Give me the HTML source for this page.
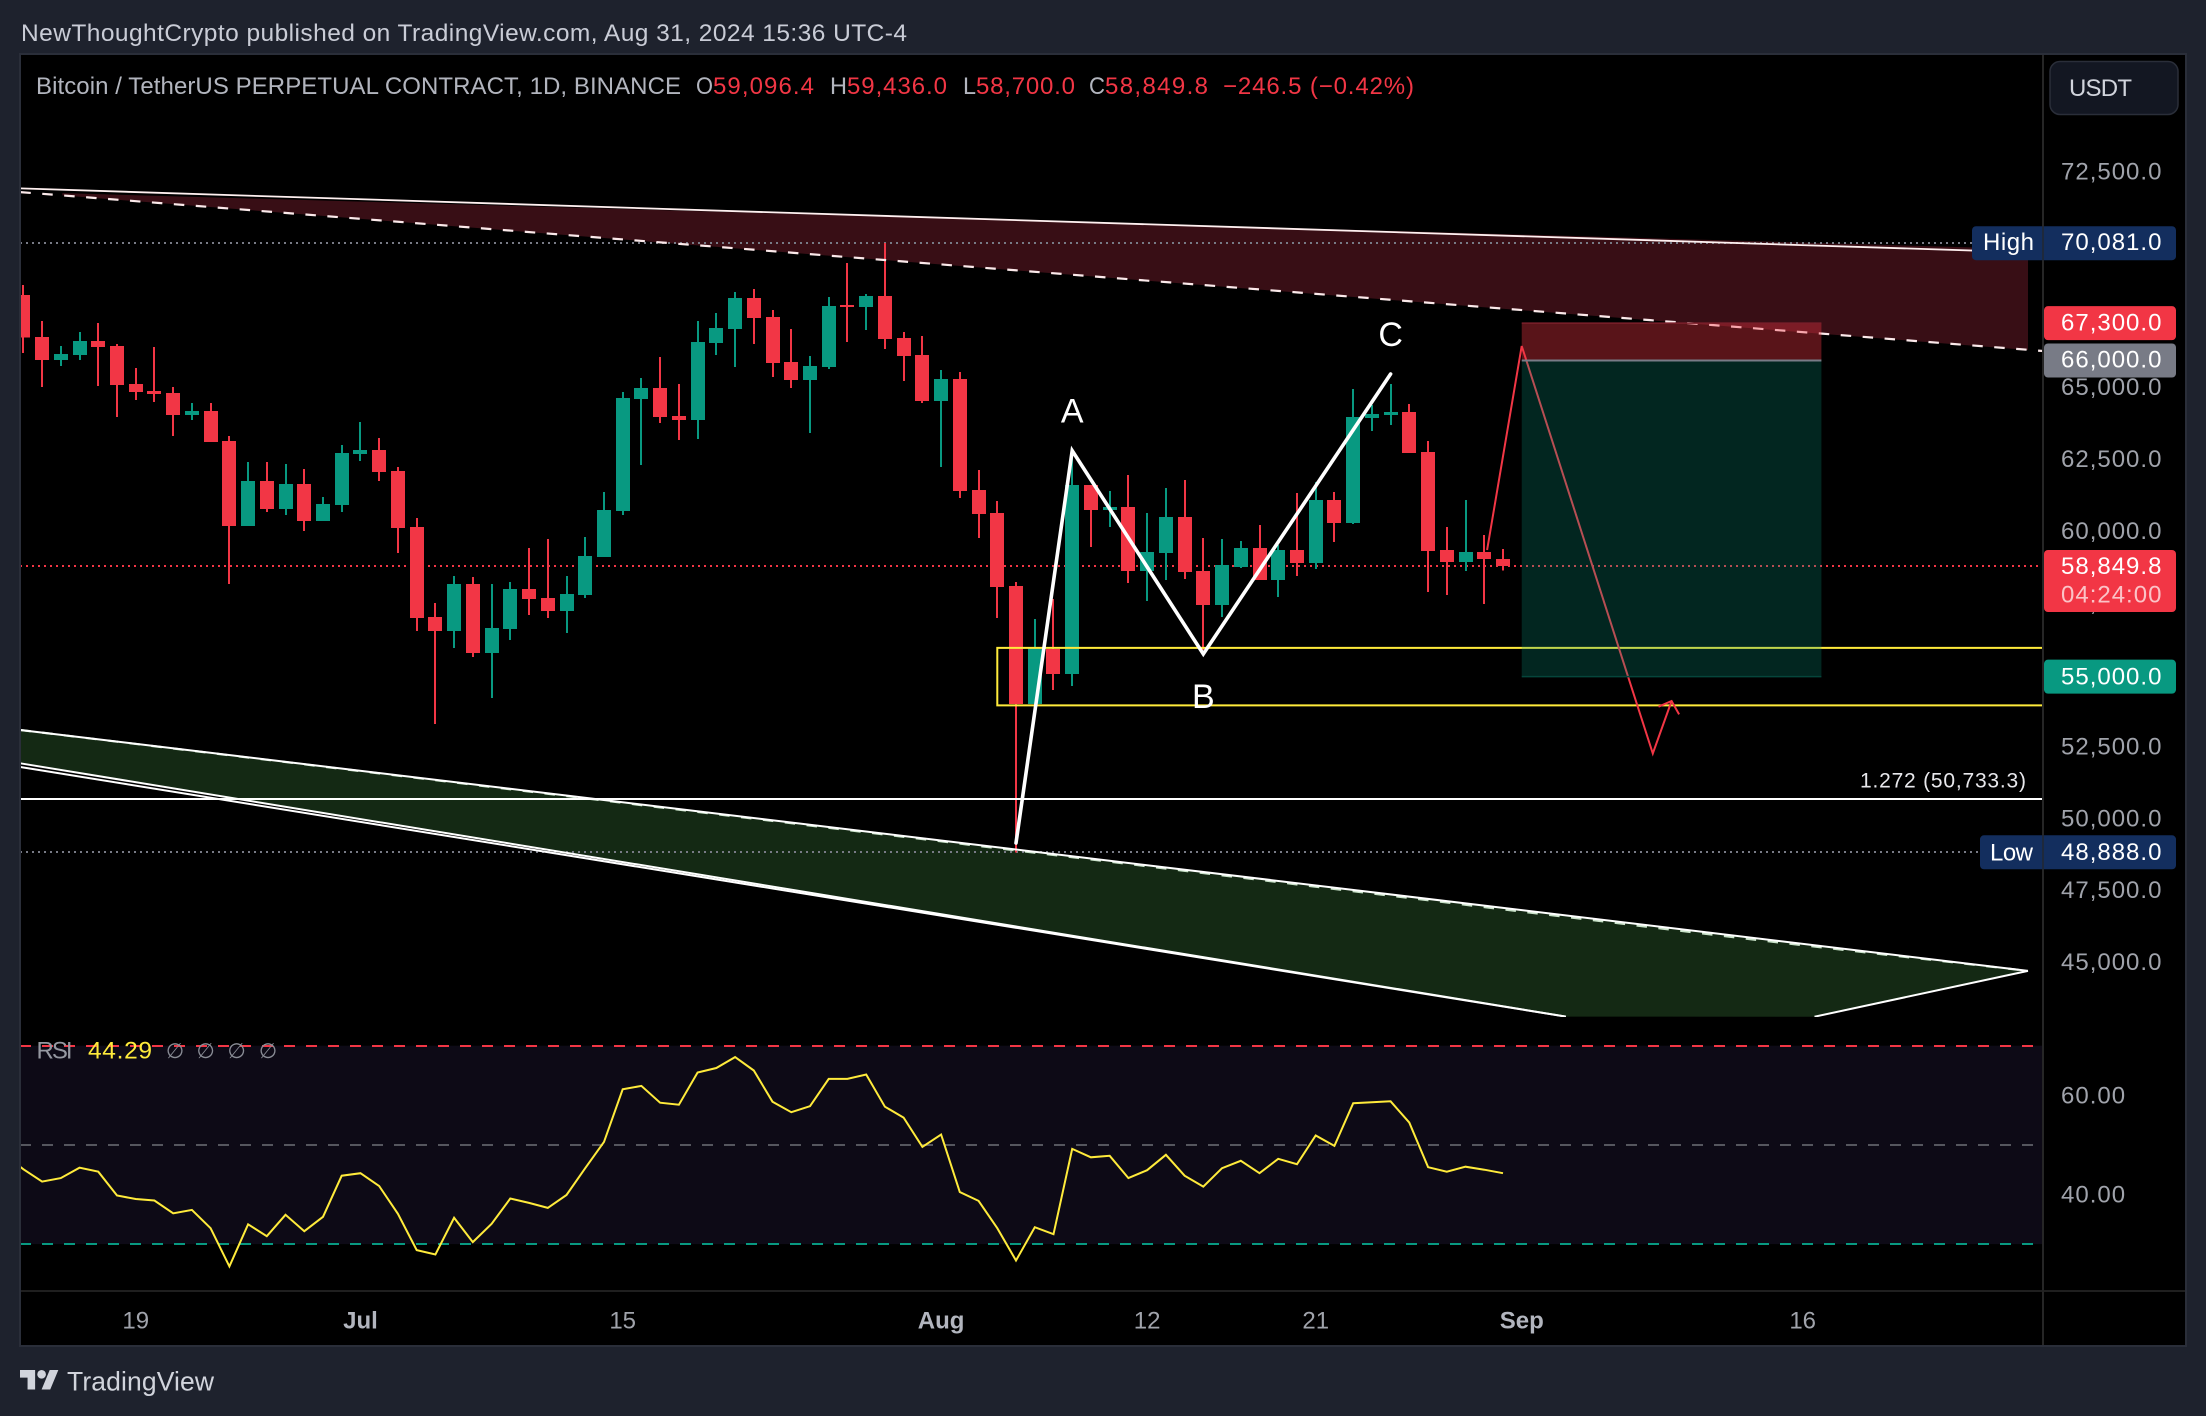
<!DOCTYPE html>
<html lang="en">
<head>
<meta charset="utf-8">
<title>BTCUSDT Perpetual 1D chart</title>
<style>
html,body{margin:0;padding:0;background:#1e222d;}
body{width:2206px;height:1416px;overflow:hidden;}
svg{display:block;font-family:"Liberation Sans",sans-serif;}
</style>
</head>
<body>
<svg id="chart" xmlns="http://www.w3.org/2000/svg" width="2206" height="1416" viewBox="0 0 2206 1416">
  <defs>
    <clipPath id="main-clip"><rect x="20" y="54" width="2023" height="963"></rect></clipPath>
    <clipPath id="rsi-clip"><rect x="20" y="1018" width="2023" height="272"></rect></clipPath>
  </defs>
  <rect x="0" y="0" width="2206" height="1416" fill="#1e222d"></rect>
  <text x="21" y="41" font-size="24.5" fill="#c9ccd6" textLength="886" lengthAdjust="spacing">NewThoughtCrypto published on TradingView.com, Aug 31, 2024 15:36 UTC-4</text>
  <rect x="20" y="54" width="2166" height="1292" fill="#000"></rect>
  <g id="main-pane" clip-path="url(#main-clip)"></g>
  <g id="rsi-pane" clip-path="url(#rsi-clip)"></g>
  <g id="axes"></g>
  <rect x="20" y="54" width="2166" height="1292" fill="none" stroke="#2a2e39" stroke-width="2"></rect>

  <text x="36" y="94" font-size="24" fill="#b2b5be" textLength="645" lengthAdjust="spacing">Bitcoin / TetherUS PERPETUAL CONTRACT, 1D, BINANCE</text>
  <text x="696" y="94" font-size="24" fill="#b2b5be" textLength="17" lengthAdjust="spacingAndGlyphs">O</text>
  <text x="713" y="94" font-size="24" fill="#f23645" textLength="101" lengthAdjust="spacing">59,096.4</text>
  <text x="830" y="94" font-size="24" fill="#b2b5be" textLength="17" lengthAdjust="spacingAndGlyphs">H</text>
  <text x="847" y="94" font-size="24" fill="#f23645" textLength="100" lengthAdjust="spacing">59,436.0</text>
  <text x="963" y="94" font-size="24" fill="#b2b5be" textLength="13" lengthAdjust="spacingAndGlyphs">L</text>
  <text x="976" y="94" font-size="24" fill="#f23645" textLength="99" lengthAdjust="spacing">58,700.0</text>
  <text x="1089" y="94" font-size="24" fill="#b2b5be" textLength="16" lengthAdjust="spacingAndGlyphs">C</text>
  <text x="1105" y="94" font-size="24" fill="#f23645" textLength="103" lengthAdjust="spacing">58,849.8</text>
  <text x="1223" y="94" font-size="24" fill="#f23645" textLength="191" lengthAdjust="spacing">−246.5 (−0.42%)</text>

  <g>
    <rect x="2050" y="61.5" width="128" height="53" rx="10" fill="#131722" stroke="#2a2e39" stroke-width="1.5"></rect>
    <text x="2069" y="96" font-size="24" fill="#d1d4dc" textLength="63" lengthAdjust="spacing">USDT</text>
  </g>

  <g>
    <g transform="translate(20,1365.7) scale(1.08)" fill="#d1d4dc">
      <path d="M14 22H7V11H0V4h14v18zM28 22h-8l7.5-18h8L28 22z"></path>
      <circle cx="20" cy="8" r="4"></circle>
    </g>
    <text x="67" y="1390.5" font-size="26.5" fill="#d1d4dc" textLength="147" lengthAdjust="spacing">TradingView</text>
  </g>
</svg>
<script>
// ---- Candle data: one entry per daily bar, starting Jun 13 2024 ----
const opens = [68280,66820,66020,66190,66680,66510,65180,64940,64870,64110,
  64240,63200,60240,61810,60830,61700,60420,60970,62750,62890,
  62160,60210,57080,56590,58220,55820,56660,58050,57740,57280,
  57840,59160,60760,64660,65040,64070,63930,66610,67100,68180,
  67510,65950,65320,65770,67930,67860,68250,66780,66190,64590,
  65360,61500,60690,58150,54050,55960,55090,61670,60800,60900,
  58680,59300,60550,58680,57490,58810,59480,58360,59410,58950,
  61150,60350,64000,64100,64210,62820,59410,58990,59340,59096.4];
const highs = [68630,67380,66510,66990,67310,66580,65740,66470,65080,64520,
  64520,63370,62470,62470,62400,62230,61250,63060,63860,63300,
  62300,60520,57560,58500,58470,58220,58290,59480,59790,58500,
  59860,61430,64910,65390,66120,65180,67380,67650,68380,68490,
  67760,67100,66160,68210,69390,68320,70081,66990,66850,65670,
  65600,62190,61110,58290,57010,57700,62610,61670,61460,62020,
  60690,61560,61840,59820,59790,59720,60280,59580,61390,61770,
  61420,65010,64450,65180,64490,63200,60210,61150,59930,59436];
const lows = [66260,65080,65810,66020,65110,64040,64630,64560,63370,63930,
  63170,58220,60240,60730,60620,60070,60420,60730,62500,61810,
  59300,56590,53350,56000,55680,54260,56270,57150,57040,56520,
  57740,59160,60620,62360,63830,63230,63270,66190,65770,66580,
  65430,65040,63480,65710,66640,67060,66400,65290,64520,62300,
  61220,59820,57040,48888,54050,54530,54670,59510,60210,58260,
  57630,58360,58400,55930,57080,58780,58360,57770,58500,58750,
  59690,60310,63550,63760,62780,57950,57840,58680,57530,58700];
const closes = [66800,66020,66230,66680,66470,65150,64910,64840,64110,64240,
  63170,60240,61810,60830,61700,60420,61010,62780,62890,62120,
  60170,57040,56590,58220,55820,56690,58050,57700,57280,57880,
  59200,60800,64700,65040,64040,63930,66640,67130,68180,67480,
  65910,65320,65810,67900,67860,68250,66750,66160,64590,65360,
  61460,60660,58120,54050,56010,55090,61670,60800,60900,58680,
  59340,60550,58640,57490,58880,59480,58360,59410,58950,61150,
  60350,64030,64140,64210,62780,59370,58990,59340,59090,58849.8];

// ---- RSI values, one per bar ----
const rsiBeforeFirst = 48.0;
const rsiValues = [45.1,42.6,43.3,45.4,44.6,39.8,39.1,38.8,36.2,36.9,
  33.2,25.5,34.0,31.6,35.9,32.6,35.5,43.8,44.3,41.7,
  36.1,28.8,27.9,35.3,30.4,34.1,39.2,38.3,37.3,39.9,
  45.3,50.6,61.2,61.9,58.5,58.1,64.6,65.5,67.7,65.0,
  58.7,56.6,57.8,63.3,63.3,64.2,57.7,55.5,49.6,52.1,
  40.5,38.7,33.2,26.7,33.4,32.0,49.2,47.5,47.8,43.3,
  44.9,48.0,43.8,41.6,45.3,46.8,44.3,47.2,46.1,51.9,
  49.8,58.4,58.6,58.8,54.5,45.5,44.6,45.6,45.0,44.29];
const rsiLevels = [70, 50, 30];
const rsiLevelColors = ['#f23645', '#55565e', '#089981'];
const rsiTicks = [60, 40];

// ---- Axis tick labels ----
const priceTicks = [72500,70000,67500,65000,62500,60000,57500,55000,52500,50000,47500,45000];
const timeTickBars = [6, 18, 32, 49, 60, 69, 80, 95];
const timeTickLabels = ['19', 'Jul', '15', 'Aug', '12', '21', 'Sep', '16'];
const timeTickBold = [false, true, false, true, false, false, true, false];

// ---- Price scale badges ----
const highPrice = 70081;
const lowPrice = 48888;
const lastPrice = 58849.8;
const countdown = '04:24:00';
const stopPrice = 67300;
const entryPrice = 66000;
const targetPrice = 55000;
const fibPrice = 50733.3;

// ---- Drawn annotations: bar index and price ----
const swingBars = [53, 56, 63, 73];
const swingPrices = [49213, 62861, 55788, 65530];
const swingNames = ['', 'A', 'B', 'C'];
const zoneBar = 52;
const zonePrices = [56000, 54000];
const positionBars = [80, 96];
const projectionBars = [78.15, 80, 87, 88];
const projectionPrices = [59407, 66504, 52327, 54153];
const arrowBars = [87.3, 88, 88.4];
const arrowPrices = [53955, 54153, 53687];
const upperSolidBars = [-0.16, 107.03];
const upperSolidPrices = [71990, 69764];
const upperDashedBars = [-0.16, 107.83];
const upperDashedPrices = [71861, 66330];
const upperFillBars = [2.08, 107.03, 107.03, 2.08];
const upperFillPrices = [71826, 69878, 66365, 71746];
const lowerTopBars = [-0.16, 107.03];
const lowerTopPrices = [53144, 44760];
const lowerDashedBars = [-0.16, 92.19, 107.03];
const lowerDashedPrices = [53144, 45863, 44760];
const lowerEdgeBars = [-0.16, 82.36];
const lowerEdgeAPrices = [51986, 43170];
const lowerEdgeBPrices = [51857, 43170];
const apexBars = [107.03, 95.63];
const apexPrices = [44760, 43167];

// ---- Axis functions ----
function xScale(i) { return 1503 + (i - 79) * 18.73; }
function yPrice(p) { return 566 - (p - 58849.8) * 0.02874; }
function yRsi(v) { return 1045.7 + (70 - v) * 4.96; }

const NS = 'http://www.w3.org/2000/svg';
const mainPane = document.getElementById('main-pane');
const rsiPane = document.getElementById('rsi-pane');
const axes = document.getElementById('axes');
function make(parent, tag, attrs, text) {
  const n = document.createElementNS(NS, tag);
  for (const k in attrs) n.setAttribute(k, attrs[k]);
  if (text !== undefined) n.textContent = text;
  parent.appendChild(n);
  return n;
}
function pts(bars, prices) {
  return bars.map((b, k) => xScale(b).toFixed(1) + ',' + yPrice(prices[k]).toFixed(1)).join(' ');
}
function fmt(p, d) {
  return p.toLocaleString('en-US', {minimumFractionDigits: d, maximumFractionDigits: d});
}
let el;

// Channel fills
el = make(mainPane, 'polygon', {points: pts(upperFillBars, upperFillPrices), fill: '#380e15'});


el = make(mainPane, 'polygon', {
  points: [xScale(lowerTopBars[0]) + ',' + yPrice(lowerTopPrices[0]),
           xScale(lowerTopBars[1]) + ',' + yPrice(lowerTopPrices[1]),
           xScale(apexBars[1]) + ',' + yPrice(apexPrices[1]),
           xScale(lowerEdgeBars[1]) + ',' + yPrice(lowerEdgeAPrices[1]),
           xScale(lowerEdgeBars[0]) + ',' + yPrice(lowerEdgeAPrices[0])].join(' '),
  fill: '#142914'});



// Dotted high / low / last price lines
el = make(mainPane, 'line', {x1: 20, x2: 1972, y1: Math.round(yPrice(highPrice)), y2: Math.round(yPrice(highPrice)), stroke: '#787b86', 'stroke-width': 2, 'stroke-dasharray': '2 4', 'shape-rendering': 'crispEdges'});


el = make(mainPane, 'line', {x1: 20, x2: 1980, y1: Math.round(yPrice(lowPrice)), y2: Math.round(yPrice(lowPrice)), stroke: '#787b86', 'stroke-width': 2, 'stroke-dasharray': '2 4', 'shape-rendering': 'crispEdges'});


el = make(mainPane, 'line', {x1: 20, x2: 2043, y1: Math.round(yPrice(lastPrice)), y2: Math.round(yPrice(lastPrice)), stroke: '#f23645', 'stroke-width': 2, 'stroke-dasharray': '2 4', 'shape-rendering': 'crispEdges'});



// Candles
for (let i = 0; i < opens.length; i++) {
  const up = closes[i] >= opens[i];
  const color = up ? '#089981' : '#f23645';
  const cx = xScale(i);
  const top = yPrice(Math.max(opens[i], closes[i]));
  const bot = yPrice(Math.min(opens[i], closes[i]));
  const wick = make(mainPane, 'rect', {x: Math.round(cx - 1), width: 2, y: yPrice(highs[i]).toFixed(1), height: (yPrice(lows[i]) - yPrice(highs[i])).toFixed(1), fill: color, 'shape-rendering': 'crispEdges'});
  
  
  const body = make(mainPane, 'rect', {x: Math.round(cx - 7), width: 14, y: top.toFixed(1), height: Math.max(bot - top, 2).toFixed(1), fill: color, 'shape-rendering': 'crispEdges'});
  
  
}

// Channel lines
el = make(mainPane, 'polyline', {points: pts(upperSolidBars, upperSolidPrices), fill: 'none', stroke: '#fff0f0', 'stroke-width': 1.8});


el = make(mainPane, 'polyline', {points: pts(upperDashedBars, upperDashedPrices), fill: 'none', stroke: '#fbe9ea', 'stroke-width': 2.2, 'stroke-dasharray': '10.5 11.5'});


el = make(mainPane, 'polyline', {points: pts(lowerDashedBars, lowerDashedPrices), fill: 'none', stroke: '#c9e2c9', 'stroke-width': 2.2, 'stroke-dasharray': '10.5 11.5'});


el = make(mainPane, 'polyline', {points: pts(lowerTopBars, lowerTopPrices), fill: 'none', stroke: '#fff', 'stroke-width': 2});


el = make(mainPane, 'polyline', {points: pts(lowerEdgeBars, lowerEdgeAPrices), fill: 'none', stroke: '#fff', 'stroke-width': 2});


el = make(mainPane, 'polyline', {points: pts(lowerEdgeBars, lowerEdgeBPrices), fill: 'none', stroke: '#fff', 'stroke-width': 2});


el = make(mainPane, 'polyline', {points: pts(apexBars, apexPrices), fill: 'none', stroke: '#fff', 'stroke-width': 2});



// Fibonacci extension level
el = make(mainPane, 'line', {x1: 20, x2: 2042, y1: Math.round(yPrice(fibPrice)), y2: Math.round(yPrice(fibPrice)), stroke: '#fff', 'stroke-width': 2, 'shape-rendering': 'crispEdges'});


el = make(mainPane, 'text', {x: 1860, y: yPrice(fibPrice) - 12, 'font-size': 21, fill: '#e8e8ec', textLength: 166, lengthAdjust: 'spacing'}, '1.272 (' + fmt(fibPrice, 1) + ')');



// Yellow support zone: open on the right, extends to the price axis
el = make(mainPane, 'polyline', {points: [2042 + ',' + yPrice(zonePrices[0]), xScale(zoneBar) + ',' + yPrice(zonePrices[0]), xScale(zoneBar) + ',' + yPrice(zonePrices[1]), 2042 + ',' + yPrice(zonePrices[1])].join(' '), fill: 'none', stroke: '#ffeb3b', 'stroke-width': 2});



// Projection path
el = make(mainPane, 'polyline', {points: pts(projectionBars, projectionPrices), fill: 'none', stroke: '#f23645', 'stroke-width': 2});


el = make(mainPane, 'polyline', {points: pts(arrowBars, arrowPrices), fill: 'none', stroke: '#f23645', 'stroke-width': 2});



// Short position tool
const posL = xScale(positionBars[0]);
const posW = xScale(positionBars[1]) - posL;
el = make(mainPane, 'rect', {x: posL, y: yPrice(stopPrice), width: posW, height: yPrice(entryPrice) - yPrice(stopPrice), fill: 'rgba(242,54,69,0.37)'});


el = make(mainPane, 'rect', {x: posL, y: yPrice(entryPrice), width: posW, height: yPrice(targetPrice) - yPrice(entryPrice), fill: 'rgba(8,153,129,0.25)'});


el = make(mainPane, 'line', {x1: posL, x2: posL + posW, y1: yPrice(entryPrice), y2: yPrice(entryPrice), stroke: '#787b86', 'stroke-width': 2});


el = make(mainPane, 'line', {x1: posL, x2: posL + posW, y1: yPrice(stopPrice), y2: yPrice(stopPrice), stroke: '#7a1f2a', 'stroke-width': 1.5});


el = make(mainPane, 'line', {x1: posL, x2: posL + posW, y1: yPrice(targetPrice), y2: yPrice(targetPrice), stroke: '#05453b', 'stroke-width': 1.5});



// ABC swing
el = make(mainPane, 'polyline', {points: pts(swingBars, swingPrices), fill: 'none', stroke: '#fff', 'stroke-width': 3.6, 'stroke-linejoin': 'miter', 'stroke-linecap': 'round'});


const aLabel = make(mainPane, 'text', {x: xScale(swingBars[1]), y: yPrice(swingPrices[1]) - 28, 'font-size': 34, fill: '#fff', 'text-anchor': 'middle'}, swingNames[1]);


const bLabel = make(mainPane, 'text', {x: xScale(swingBars[2]), y: yPrice(swingPrices[2]) + 54, 'font-size': 34, fill: '#fff', 'text-anchor': 'middle'}, swingNames[2]);


const cLabel = make(mainPane, 'text', {x: xScale(swingBars[3]), y: yPrice(swingPrices[3]) - 28, 'font-size': 34, fill: '#fff', 'text-anchor': 'middle'}, swingNames[3]);



// RSI pane
el = make(rsiPane, 'rect', {x: 20, y: yRsi(rsiLevels[0]), width: 2023, height: yRsi(rsiLevels[2]) - yRsi(rsiLevels[0]), fill: '#0d0a16'});


rsiLevels.forEach((lvl, k) => {
  const line = make(rsiPane, 'line', {x1: 20, x2: 2033, y1: Math.round(yRsi(lvl)), y2: Math.round(yRsi(lvl)), stroke: rsiLevelColors[k], 'stroke-width': 2, 'stroke-dasharray': '11 11', 'shape-rendering': 'crispEdges'});
  
  
});
el = make(rsiPane, 'polyline', {points: xScale(-1).toFixed(1) + ',' + yRsi(rsiBeforeFirst).toFixed(1) + ' ' + rsiValues.map((v, i) => xScale(i).toFixed(1) + ',' + yRsi(v).toFixed(1)).join(' '), fill: 'none', stroke: '#ffeb3b', 'stroke-width': 2});


el = make(rsiPane, 'text', {x: 36.5, y: 1058.5, 'font-size': 24, fill: '#9598a1', textLength: 36, lengthAdjust: 'spacing'}, 'RSI');


el = make(rsiPane, 'text', {x: 88, y: 1058.5, 'font-size': 24.5, fill: '#ffeb3b', textLength: 64, lengthAdjust: 'spacing'}, rsiValues[rsiValues.length - 1].toFixed(2));


[175, 205.6, 236.7, 268].forEach((gx) => {
  const t = make(rsiPane, 'text', {x: gx, y: 1058, 'font-size': 21, fill: '#8a8d96', 'text-anchor': 'middle'}, '∅');
  
  
});

// Axis frame lines
el = make(axes, 'line', {x1: 2043, x2: 2043, y1: 54, y2: 1346, stroke: '#262626', 'stroke-width': 2});


el = make(axes, 'line', {x1: 20, x2: 2186, y1: 1291, y2: 1291, stroke: '#1f1f1f', 'stroke-width': 2});



// Price axis ticks
priceTicks.forEach((p) => {
  const t = make(axes, 'text', {x: 2061, y: yPrice(p) + 6, 'font-size': 24, 'letter-spacing': 1, fill: '#a0a3ab'}, fmt(p, 1));
  
  
});
rsiTicks.forEach((v) => {
  const t = make(axes, 'text', {x: 2061, y: yRsi(v) + 8, 'font-size': 24, 'letter-spacing': 1, fill: '#a0a3ab'}, v.toFixed(2));
  
  
});

// Time axis ticks
timeTickBars.forEach((b, k) => {
  const t = make(axes, 'text', {x: xScale(b), y: 1328.5, 'font-size': 24, 'font-weight': timeTickBold[k] ? 700 : 400, fill: timeTickBold[k] ? '#b2b5be' : '#a0a3ab', 'text-anchor': 'middle'}, timeTickLabels[k]);
  
  
});

// Price badges
function badge(parent, x, p, color) {
  return make(parent, 'rect', {x: x, y: yPrice(p) - 17, width: 2176 - x, height: 34, rx: 4, fill: color});
}
el = badge(axes, 1972, highPrice, '#132e5e');


el = make(axes, 'text', {x: 1983, y: yPrice(highPrice) + 7, 'font-size': 24, fill: '#fff', textLength: 51, lengthAdjust: 'spacing'}, 'High');


el = make(axes, 'text', {x: 2061, y: yPrice(highPrice) + 7, 'font-size': 24, 'letter-spacing': 1, fill: '#fff'}, fmt(highPrice, 1));



el = badge(axes, 2044, stopPrice, '#f23645');


el = make(axes, 'text', {x: 2061, y: yPrice(stopPrice) + 7.5, 'font-size': 24, 'letter-spacing': 1, fill: '#fff'}, fmt(stopPrice, 1));



el = badge(axes, 2044, entryPrice, '#787b86');


el = make(axes, 'text', {x: 2061, y: yPrice(entryPrice) + 7, 'font-size': 24, 'letter-spacing': 1, fill: '#fff'}, fmt(entryPrice, 1));



el = make(axes, 'rect', {x: 2044, y: yPrice(lastPrice) - 16, width: 132, height: 62, rx: 4, fill: '#f23645'});


el = make(axes, 'text', {x: 2061, y: yPrice(lastPrice) + 8, 'font-size': 24, 'letter-spacing': 1, fill: '#fff'}, fmt(lastPrice, 1));


el = make(axes, 'text', {x: 2061, y: yPrice(lastPrice) + 36.5, 'font-size': 24, 'letter-spacing': 1, fill: '#fff', 'fill-opacity': 0.7}, countdown);



el = badge(axes, 2044, targetPrice, '#089981');


el = make(axes, 'text', {x: 2061, y: yPrice(targetPrice) + 8, 'font-size': 24, 'letter-spacing': 1, fill: '#fff'}, fmt(targetPrice, 1));



el = badge(axes, 1980, lowPrice, '#132e5e');


el = make(axes, 'text', {x: 1990, y: yPrice(lowPrice) + 8, 'font-size': 24, fill: '#fff', textLength: 43, lengthAdjust: 'spacing'}, 'Low');


el = make(axes, 'text', {x: 2061, y: yPrice(lowPrice) + 7.5, 'font-size': 24, 'letter-spacing': 1, fill: '#fff'}, fmt(lowPrice, 1));



el = make(axes, 'line', {x1: 2043, x2: 2043, y1: 54, y2: 1346, stroke: '#262626', 'stroke-width': 2, 'stroke-opacity': 0.6});


</script>
</body>
</html>
